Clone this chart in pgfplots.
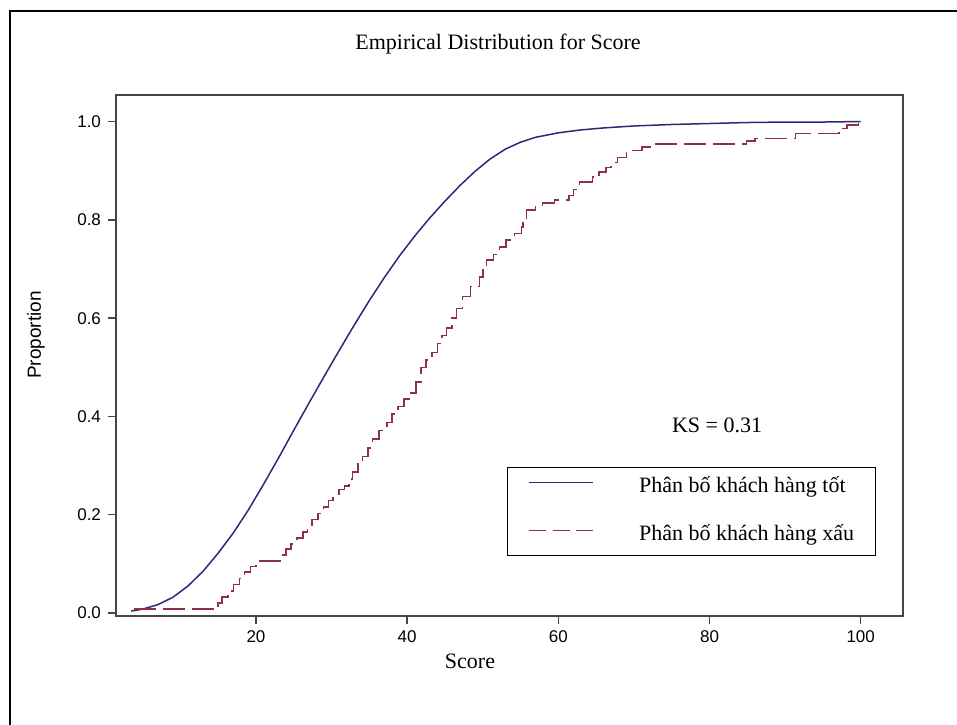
\documentclass[border=0pt]{standalone}
\usepackage{pgfplots}
\pgfplotsset{compat=1.18}
\usepackage{fontspec}
\setmainfont{Liberation Serif}
\newfontfamily\arialfont{Liberation Sans}
\definecolor{goodc}{RGB}{42,42,120}
\definecolor{badc}{RGB}{140,50,70}
\definecolor{axgray}{RGB}{70,70,70}

\begin{document}
\begin{tikzpicture}
\path[use as bounding box] (0pt,0pt) rectangle (478.5pt,362pt);
\begin{scope}
\clip (0pt,0pt) rectangle (478.5pt,362pt);
\draw[line width=1.1pt, black] (5pt,356.5pt) rectangle (500pt,-20pt);
\end{scope}

\begin{axis}[
 at={(58pt,54pt)}, anchor=south west,
 width=393.5pt, height=260.5pt, scale only axis,
 xmin=1.48, xmax=105.6, ymin=-0.006, ymax=1.054,
 xtick={20,40,60,80,100}, xticklabels={20,40,60,80,100},
 ytick={0,0.2,0.4,0.6,0.8,1.0}, yticklabels={0.0,0.2,0.4,0.6,0.8,1.0},
 tick pos=left, tick align=outside, major tick length=4pt,
 ticklabel style={font=\arialfont\fontsize{8.5}{10}\selectfont},
 /pgf/number format/assume math mode=true,
 axis line style={axgray, line width=0.9pt},
 tick style={axgray, line width=0.7pt},
 legend style={at={(0.497,0.286)}, anchor=north west, draw=black, line width=0.6pt,
   fill=white, font=\fontsize{11}{13}\selectfont,
   inner xsep=10.5pt, inner ysep=4.5pt, row sep=13pt,
   nodes={inner sep=0pt, text height=8pt, text depth=3pt},
   /tikz/every odd column/.append style={column sep=22.5pt}},
 legend image code/.code={\draw[#1, line width=0.7pt] (0pt,2.5pt) -- (32pt,2.5pt);},
 legend cell align=left,
]
\addplot[goodc, line width=0.75pt] coordinates {
(3.5,0.004) (5,0.008) (7,0.017) (9,0.032) (11,0.055) (13,0.085) (15,0.122)
(17,0.163) (19,0.210) (21,0.262) (23,0.316) (25,0.372) (27,0.427) (29,0.481)
(31,0.534) (33,0.586) (35,0.636) (37,0.683) (39,0.727) (41,0.767) (43,0.804)
(45,0.838) (47,0.870) (49,0.899) (51,0.924) (53,0.944) (55,0.958) (57,0.968)
(60,0.977) (63,0.983) (66,0.987) (70,0.991) (75,0.994) (80,0.996) (85,0.998)
(90,0.999) (95,0.999) (100,1.000)
};
\addlegendentry{Phân bố khách hàng tốt}
\addplot[badc, line width=0.75pt, const plot, dash pattern=on 11pt off 3.5pt,
  legend image post style={dash pattern=on 8.5pt off 3.2pt}] coordinates {
(3.8,0.008) (15.0,0.020) (15.5,0.033) (16.3,0.045) (17.0,0.058) (17.8,0.070)
(18.5,0.084) (19.3,0.095) (20.0,0.106) (23.2,0.118) (24.0,0.130) (24.6,0.141)
(25.4,0.153) (26.2,0.165) (26.8,0.178) (27.4,0.190) (28.2,0.203) (28.9,0.216)
(29.6,0.229) (30.2,0.242) (31.0,0.251) (31.7,0.259) (32.3,0.273) (32.8,0.287)
(33.5,0.303) (34.1,0.319) (34.8,0.336) (35.4,0.354) (36.3,0.371) (37.3,0.388)
(38.0,0.405) (38.8,0.420) (39.6,0.435) (40.5,0.448) (41.2,0.470) (41.8,0.500)
(42.5,0.515) (43.3,0.530) (44.0,0.548) (44.6,0.565) (45.2,0.580) (45.9,0.600)
(46.5,0.620) (47.3,0.644) (48.4,0.664) (49.6,0.684) (50.0,0.700) (50.5,0.718)
(51.4,0.730) (52.2,0.745) (53.1,0.759) (54.2,0.772) (55.1,0.785) (55.3,0.800)
(55.8,0.820) (57.0,0.828) (57.9,0.834) (59.5,0.840) (61.4,0.850) (62.0,0.862)
(62.8,0.877) (64.5,0.887) (65.4,0.897) (66.3,0.907) (67.0,0.917) (67.8,0.927)
(69.0,0.941) (71.1,0.948) (72.9,0.954) (84.9,0.960) (86.0,0.966) (91.4,0.976)
(97.1,0.986) (98.2,0.993) (99.7,1.000) (100,1.000)
};
\addlegendentry{Phân bố khách hàng xấu}
\node[font=\fontsize{11}{13}\selectfont] at (rel axis cs:0.7637,0.3666) {KS = 0.31};
\end{axis}

\node[anchor=base, font=\fontsize{11}{13}\selectfont] at (249pt,337pt) {Empirical Distribution for Score};
\node[anchor=base, font=\fontsize{11}{13}\selectfont] at (235pt,28pt) {Score};
\node[rotate=90, font=\arialfont\fontsize{9.5}{11}\selectfont] at (18pt,194.5pt) {Proportion};
\end{tikzpicture}
\end{document}
